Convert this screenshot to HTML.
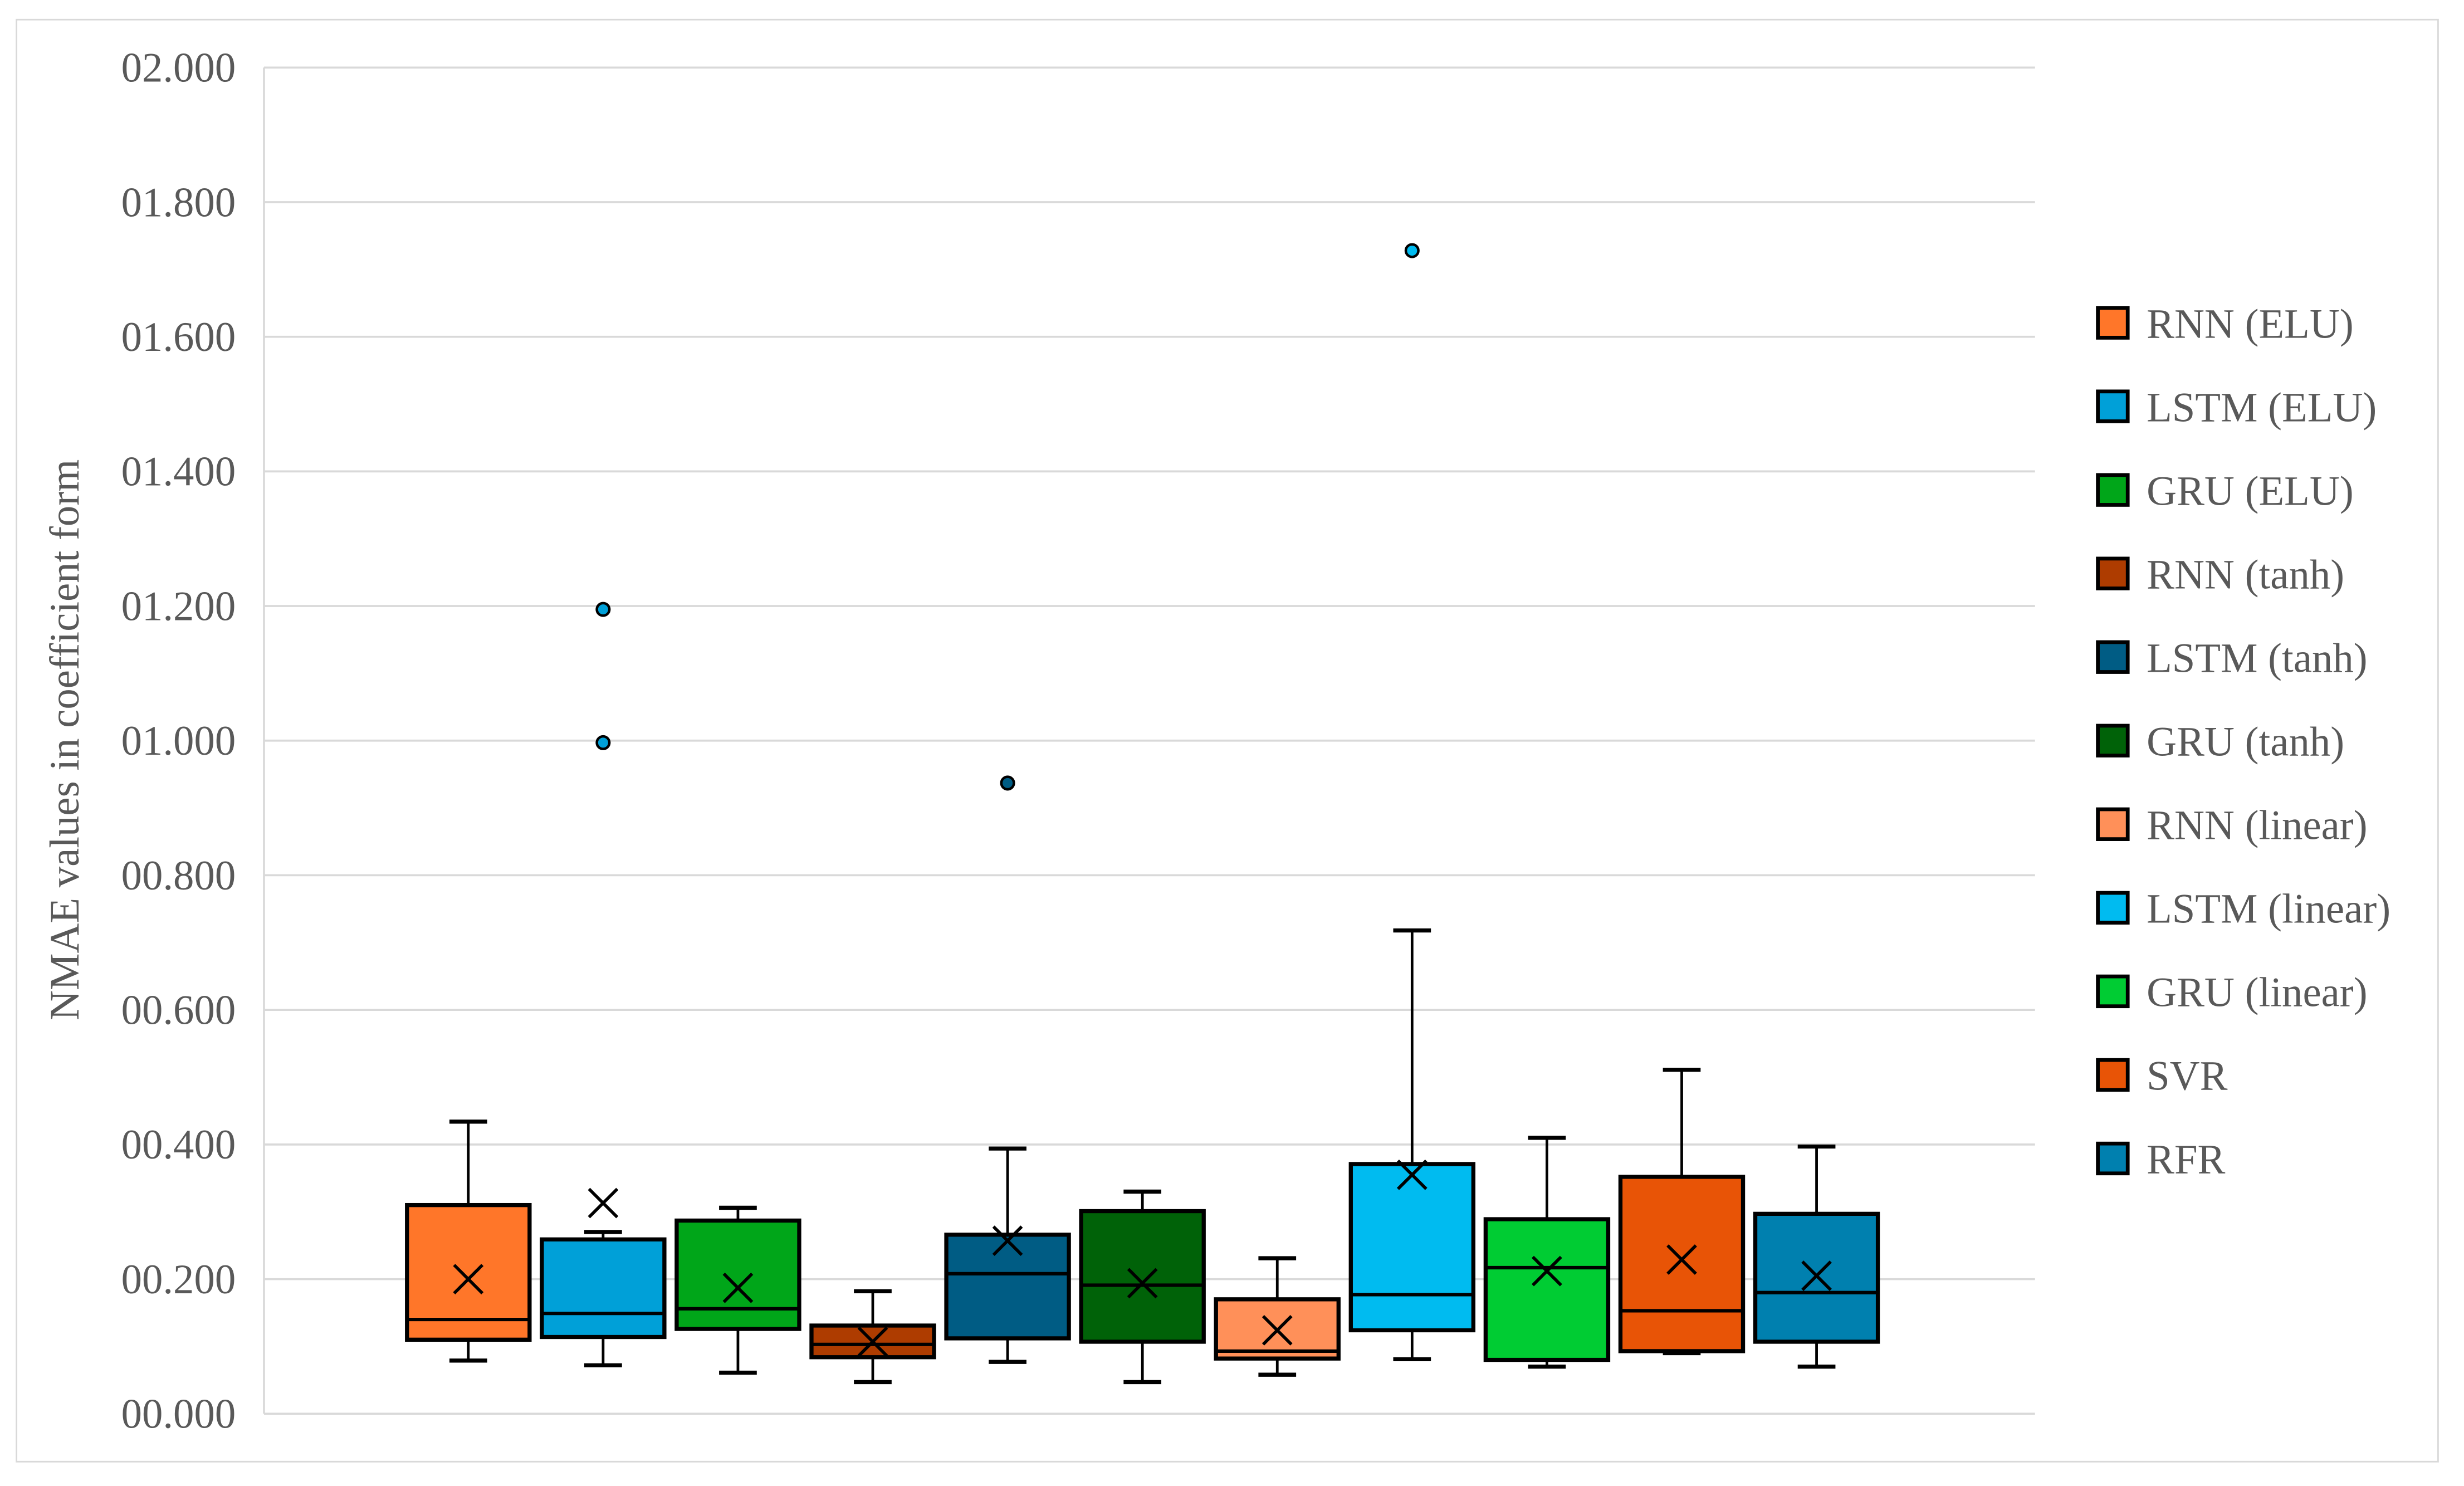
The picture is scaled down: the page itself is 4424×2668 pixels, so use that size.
<!DOCTYPE html>
<html><head><meta charset="utf-8"><style>
html,body{margin:0;padding:0;background:#fff;}
svg{display:block;}
text{font-family:"Liberation Serif",serif;fill:#595959;}
</style></head><body>
<svg id="chart" width="4424" height="2668" viewBox="0 0 1568 946" preserveAspectRatio="none" xmlns="http://www.w3.org/2000/svg">
<rect x="10.5" y="12.5" width="1541" height="918" fill="#fff" stroke="#d9d9d9" stroke-width="1"/>
<g id="grid"></g><g id="boxes"></g><g id="legend"></g>
<text transform="translate(50,471) rotate(-90)" text-anchor="middle" font-size="26.5">NMAE values in coefficient form</text>
</svg>
<script>
const names=["RNN (ELU)","LSTM (ELU)","GRU (ELU)","RNN (tanh)","LSTM (tanh)","GRU (tanh)","RNN (linear)","LSTM (linear)","GRU (linear)","SVR","RFR"];
const colors=["#FF7629","#00A0D8","#00A619","#AE3C00","#005C84","#006208","#FF9059","#00BBF0","#00CC33","#E85406","#0080AF"];
const mins=[0.079,0.072,0.061,0.047,0.077,0.047,0.058,0.081,0.070,0.090,0.070];
const q1s=[0.110,0.114,0.126,0.084,0.112,0.107,0.082,0.124,0.080,0.093,0.107];
const medians=[0.140,0.149,0.156,0.103,0.208,0.191,0.093,0.177,0.217,0.153,0.180];
const q3s=[0.310,0.259,0.287,0.131,0.266,0.301,0.170,0.371,0.289,0.352,0.297];
const maxs=[0.434,0.270,0.306,0.182,0.394,0.330,0.231,0.718,0.410,0.511,0.397];
const means=[0.200,0.313,0.187,0.107,0.257,0.194,0.124,0.355,0.212,0.229,0.205];
const outliers=[[],[1.195,0.997],[],[],[0.937],[],[],[1.728],[],[],[]];
const ticks=["00.000","00.200","00.400","00.600","00.800","01.000","01.200","01.400","01.600","01.800","02.000"];
const tickVals=[0,0.2,0.4,0.6,0.8,1.0,1.2,1.4,1.6,1.8,2.0];
const NS="http://www.w3.org/2000/svg";
const L=168,R=1295,Y0=900,Y2=43;
const y=v=>Y0-(v/2)*(Y0-Y2);
const x=i=>298+i*85.8;
function mk(tag,attrs,parent){const e=document.createElementNS(NS,tag);for(const k in attrs)e.setAttribute(k,attrs[k]);parent.appendChild(e);return e;}
const grid=document.getElementById('grid');
tickVals.forEach((v,i)=>{
  const g=mk('line',{x1:L,x2:R,y1:y(v),y2:y(v),stroke:'#d9d9d9','stroke-width':1.3},grid);
  
  
  const t=mk('text',{x:150,y:y(v)+9,'text-anchor':'end','font-size':26.5},grid);
  t.textContent=ticks[i];
  
  
});
const ax=mk('line',{x1:L,x2:L,y1:Y2,y2:Y0,stroke:'#d9d9d9','stroke-width':1.3},grid);


const boxes=document.getElementById('boxes');
const hw=39,cap=12;
names.forEach((n,i)=>{
  const cx=x(i);
  const g=mk('g',{},boxes);
  
  
  const st={stroke:'#000','stroke-width':1.7};
  mk('line',{x1:cx,x2:cx,y1:y(maxs[i]),y2:y(q3s[i]),...st},g);
  mk('line',{x1:cx,x2:cx,y1:y(q1s[i]),y2:y(mins[i]),...st},g);
  mk('line',{x1:cx-cap,x2:cx+cap,y1:y(maxs[i]),y2:y(maxs[i]),stroke:'#000','stroke-width':2.6},g);
  mk('line',{x1:cx-cap,x2:cx+cap,y1:y(mins[i]),y2:y(mins[i]),stroke:'#000','stroke-width':2.6},g);
  mk('rect',{x:cx-hw,y:y(q3s[i]),width:2*hw,height:y(q1s[i])-y(q3s[i]),fill:colors[i],stroke:'#000','stroke-width':2.6},g);
  mk('line',{x1:cx-hw,x2:cx+hw,y1:y(medians[i]),y2:y(medians[i]),stroke:'#000','stroke-width':2.2},g);
  const my=y(means[i]),d=9;
  mk('path',{d:`M${cx-d} ${my-d}L${cx+d} ${my+d}M${cx-d} ${my+d}L${cx+d} ${my-d}`,stroke:'#000','stroke-width':2,fill:'none'},g);
  outliers[i].forEach(o=>{
    const c=mk('circle',{cx:cx,cy:y(o),r:4,fill:colors[i],stroke:'#000','stroke-width':1.6},g);
    
    
  });
});
const lg=document.getElementById('legend');
names.forEach((n,i)=>{
  const yy=206+i*53.2;
  const g=mk('g',{},lg);
  
  
  mk('rect',{x:1335,y:yy-10,width:19,height:19,fill:colors[i],stroke:'#000','stroke-width':2.4},g);
  const t=mk('text',{x:1366,y:yy+9,'font-size':26.5},g);
  t.textContent=n;
});
</script>
</body></html>
